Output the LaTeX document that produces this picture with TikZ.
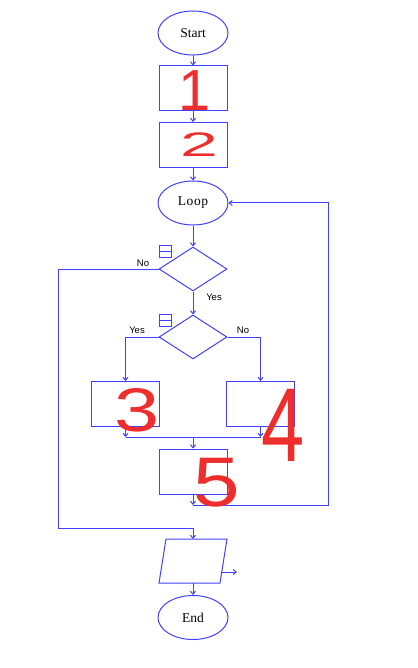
\documentclass[tikz,border=0pt]{standalone}
\usepackage{fontspec}
\setmainfont{Liberation Serif}
\newfontfamily\lsans{Liberation Sans}
\usetikzlibrary{shapes.geometric,arrows.meta}
\definecolor{fb}{RGB}{64,64,255}
\definecolor{hw}{RGB}{238,45,45}
\tikzset{
  ln/.style={draw=fb, line width=1pt},
  arr/.style={ln, -{Straight Barb[length=3pt,width=5pt]}},
  procbox/.style={ln, rectangle, minimum width=68pt, minimum height=45pt, inner sep=0pt},
  term/.style={ln, ellipse, minimum width=70pt, minimum height=44pt, inner sep=0pt, font=\fontsize{13.5}{15}\selectfont},
  dec/.style={ln, diamond, minimum width=68pt, minimum height=44pt, inner sep=0pt},
  icon/.style={ln, rectangle, minimum width=12pt, minimum height=12pt, inner sep=0pt},
  lbl/.style={font=\lsans\fontsize{9.5}{10}\selectfont, inner sep=0pt},
  hand/.style={text=hw, inner sep=0pt}
}
\begin{document}
\begin{tikzpicture}[x=1pt,y=-1pt]
\useasboundingbox (0,0) rectangle (417,668);
% nodes
\node[term] (start) at (193,33) {Start};
\node[procbox] (b1) at (193,88.5) {};
\node[procbox] (b2) at (193,145) {};
\node[term] (loop) at (193,203) {L\kern0.6pt o\kern0.6pt o\kern0.6pt p};
\node[dec] (d1) at (193,269) {};
\node[dec] (d2) at (193,337) {};
\node[procbox] (b3) at (125.5,404) {};
\node[procbox] (b4) at (260.5,404) {};
\node[procbox] (b5) at (193,471.5) {};
\node[term] (end) at (193,617.5) {End};
% parallelogram (input/output)
\node[inner sep=0pt] (io) at (193,561) {};
\draw[ln] (166,539) -- (227,539) -- (220,583) -- (159,583) -- cycle;
\coordinate (iotop) at (193,539);
\coordinate (iobot) at (193,583);
\coordinate (iort) at (222,572);
\coordinate (ioout) at (237,572);
% icons
\node[icon] (ic1) at (165,251) {};
\draw[ln] (ic1.west) -- (ic1.east);
\node[icon] (ic2) at (165,320) {};
\draw[ln] (ic2.west) -- (ic2.east);
% labels
\node[lbl] (no1) at (143,263.5) {No};
\node[lbl] (yes1) at (214,297) {Yes};
\node[lbl] (yes2) at (137,330) {Yes};
\node[lbl] (no2) at (243,330) {No};
% helper coordinates
\coordinate (c1) at (58,528);
\coordinate (j) at (193,437);
\coordinate (j2) at (193,505);
\coordinate (r) at (328,505);
% connectors
\draw[arr] (start.south) -- (b1.north);
\draw[arr] (b1.south) -- (b2.north);
\draw[arr] (b2.south) -- (loop.north);
\draw[arr] (loop.south) -- (d1.north);
\draw[arr] (d1.south) -- (d2.north);
\draw[arr] (d1.west) -| (c1) -| (iotop);
\draw[arr] (d2.west) -| (b3.north);
\draw[arr] (d2.east) -| (b4.north);
\draw[arr] (b3.south) -- (b3.south |- j);
\draw[arr] (b4.south) -- (b4.south |- j);
\draw[ln] (b3.south |- j) -- (b4.south |- j);
\draw[arr] (j) -- (b5.north);
\draw[arr] (b5.south) -- (j2);
\draw[arr] (j2) -- (r) |- (loop.east);
\draw[arr] (iobot) -- (end.north);
\draw[arr] (iort) -- (ioout);
% handwritten numbers
\node[hand, font=\lsans\fontsize{58}{58}\selectfont] (n1) at (195,91) {1};
\node[hand, font=\lsans\fontsize{34}{34}\selectfont] (n2) at (199,145) {\scalebox{2}[1]{2}};
\node[hand, font=\lsans\fontsize{56}{56}\selectfont] (n3) at (137,410) {\scalebox{1.45}[1.1]{3}};
\node[hand, font=\lsans\fontsize{50}{50}\selectfont] (n4) at (283,425) {\scalebox{1.55}[2.1]{4}};
\node[hand, font=\lsans\fontsize{54}{54}\selectfont] (n5) at (217,483) {\scalebox{1.55}[1.3]{5}};
\end{tikzpicture}
\end{document}
